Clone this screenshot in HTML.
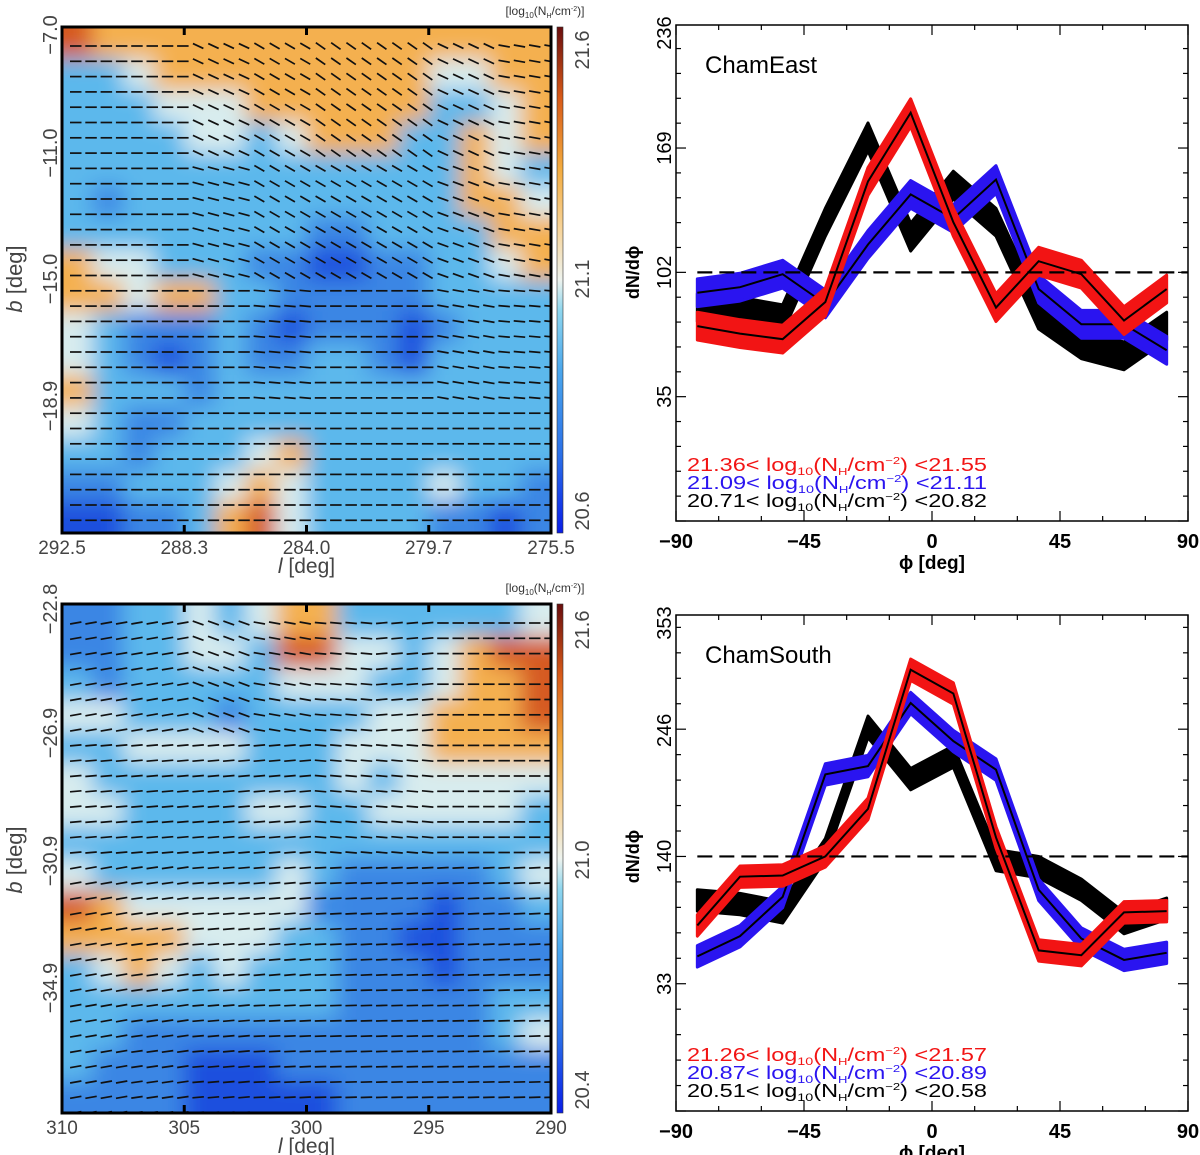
<!DOCTYPE html>
<html><head><meta charset="utf-8"><style>
html,body{margin:0;padding:0;background:#fff;}
svg{display:block;font-family:"Liberation Sans",sans-serif;}
</style></head><body>
<svg id="fig" width="1200" height="1155" viewBox="0 0 1200 1155" xmlns="http://www.w3.org/2000/svg">
<defs>
<filter id="blur" x="-10%" y="-10%" width="120%" height="120%"><feGaussianBlur stdDeviation="11"/></filter>
<clipPath id="clipTop"><rect x="62" y="27" width="489" height="506"/></clipPath>
<clipPath id="clipBot"><rect x="62" y="604" width="489" height="509"/></clipPath>
<linearGradient id="cbar" x1="0" y1="1" x2="0" y2="0">
<stop offset="0" stop-color="#0a1ee8"/><stop offset="0.15" stop-color="#2a6ee8"/><stop offset="0.32" stop-color="#4aa6ec"/>
<stop offset="0.44" stop-color="#8ed6ee"/><stop offset="0.5" stop-color="#eef3ee"/><stop offset="0.6" stop-color="#f7d49a"/>
<stop offset="0.72" stop-color="#f3ab3e"/><stop offset="0.86" stop-color="#d85a18"/><stop offset="1" stop-color="#6a0e0e"/>
</linearGradient>
</defs>
<g id="maps"></g>
<g id="charts"></g>
</svg>
<script>
// ---------- map data (coarse column-density levels 0..5) ----------
const levelColors = ["#1f50de","#3a86e4","#5cb8ec","#d8ecee","#f4b050","#d65a24"];
const eastGrid = [
"5444444444444444",
"2234444444443344",
"2223334444442234",
"2222332344422434",
"2222222222222432",
"2122222222222443",
"2222222211222244",
"4332221100112234",
"4434422111112222",
"3211121011101222",
"3210121122102222",
"4222122222222222",
"3211222222222222",
"2212223422222222",
"1122234322223221",
"0011245322221101"];
const southGrid = [
"1122323442222223",
"1122332553323455",
"2122222333223445",
"3322212222334445",
"2233332223334444",
"3222222223233333",
"3322223322333332",
"2222222222222222",
"3222222321111123",
"5433333311110112",
"4444333221100111",
"2343232221110111",
"2222222221111122",
"2211111111111123",
"2111000111111111",
"1111000001111111"];
const eastAngles = [[0,0,25,30,35,35,25,10],[0,0,15,30,30,30,20,10],[0,0,0,5,0,0,10,5],[0,0,0,0,0,0,0,0]];
const southAngles = [[-10,-10,20,10,5,-5,0,0],[-5,-5,-5,-5,5,5,0,0],[-10,-8,-5,-5,-3,-3,-3,-3],[-10,-8,-5,-3,-2,-2,-2,-2]];

// ---------- chart data ----------
const phiBins = [-82.5,-67.5,-52.5,-37.5,-22.5,-7.5,7.5,22.5,37.5,52.5,67.5,82.5];
const eastBlack = [83,81,77,129,175,121,149,129,79,63,57,73];
const eastBlue  = [91,94,101,85,117,144,131,152,93,74,74,60];
const eastRed   = [73,69,66,86,151,188,129,83,108,101,76,93];
const southBlack= [103,100,93,146,249,205,224,137,131,112,84,96];
const southBlue = [56,73,106,209,216,269,237,213,112,71,53,59];
const southRed  = [82,123,124,140,180,297,277,156,61,57,93,94];
const xTicks = [-90,-45,0,45,90];
const eastYTicks = [35,102,169,236];
const southYTicks = [33,140,246,353];
const eastMean = 102, southMean = 140;
const eastErr = 7.5, southErr = 9;

const NS="http://www.w3.org/2000/svg";
function mk(tag,attrs,parent,text){const e=document.createElementNS(NS,tag);for(const k in attrs)e.setAttribute(k,attrs[k]);if(text!==undefined)e.textContent=text;parent.appendChild(e);return e;}

// ---------- maps ----------
function drawMap(name,grid,angles,x0,y0,w,h,clip,xl,yl,cl,ylab){
  const g=mk('g',{},document.getElementById('maps'));
  
  
  const cg=mk('g',{'clip-path':'url(#'+clip+')'},g);
  const hm=mk('g',{filter:'url(#blur)'},cg);
  
  
  const R=grid.length,C=grid[0].length,cw=w/C,ch=h/R;
  for(let r=0;r<R;r++)for(let c=0;c<C;c++){
    let x=x0+c*cw,y=y0+r*ch,ww=cw+0.5,hh=ch+0.5;
    if(c==0){x-=25;ww+=25;} if(c==C-1){ww+=25;}
    if(r==0){y-=25;hh+=25;} if(r==R-1){hh+=25;}
    const rc=mk('rect',{x:x,y:y,width:ww,height:hh,fill:levelColors[+grid[r][c]]},hm);
    
    
  }
  const vg=mk('g',{stroke:'#111','stroke-width':1.7},cg);
  
  
  const sp=15.3,len=11.5;
  for(let yy=y0+19;yy<y0+h;yy+=sp){
    for(let xx=x0+8;xx<x0+w;xx+=sp){
      const ar=Math.min(angles.length-1,Math.floor((yy-y0)/h*angles.length));
      const ac=Math.min(angles[0].length-1,Math.floor((xx-x0)/w*angles[0].length));
      const a=angles[ar][ac]*Math.PI/180;
      const dx=Math.cos(a)*len/2,dy=Math.sin(a)*len/2,cx=xx+len/2;
      mk('line',{x1:cx-dx,y1:yy-dy,x2:cx+dx,y2:yy+dy},vg);
    }
  }
  const fr=mk('rect',{x:x0,y:y0,width:w,height:h,fill:'none',stroke:'#000','stroke-width':3},g);
  
  
  for(let i=0;i<5;i++){const tx=x0+w*i/4;mk('line',{x1:tx,y1:y0,x2:tx,y2:y0+8,stroke:'#000','stroke-width':3},g);mk('line',{x1:tx,y1:y0+h,x2:tx,y2:y0+h-8,stroke:'#000','stroke-width':3},g);}
  const cb=mk('rect',{x:557,y:y0,width:6,height:h,fill:'url(#cbar)',stroke:'#333','stroke-width':0.6},g);
  
  
  const ct=mk('text',{x:545,y:y0-12,'font-size':12,fill:'#333','text-anchor':'middle'},g,'');
  ct.innerHTML='[log<tspan font-size="8" dy="3">10</tspan><tspan dy="-3">(N</tspan><tspan font-size="7" dy="3">H</tspan><tspan dy="-3">/cm</tspan><tspan font-size="7" dy="-4">-2</tspan><tspan dy="4">)]</tspan>';
  
  
  cl.forEach(([t,y])=>{const e=mk('text',{x:0,y:0,'font-size':20,fill:'#444','text-anchor':'middle',transform:'translate(589,'+y+') rotate(-90)'},g,t);
    });
  xl.forEach((t,i)=>{const e=mk('text',{x:x0+w*i/4,y:y0+h+21,'font-size':19,fill:'#444','text-anchor':'middle'},g,t);
    });
  yl.forEach(([t,y])=>{const e=mk('text',{x:0,y:0,'font-size':20,fill:'#444','text-anchor':'middle',transform:'translate(57,'+y+') rotate(-90)'},g,t);
    });
  const xt=mk('text',{x:x0+w/2,y:y0+h+40,'font-size':21,fill:'#444','text-anchor':'middle'},g,'');
  xt.innerHTML='<tspan font-style="italic">l</tspan> [deg]';
  
  const yt=mk('text',{x:0,y:0,'font-size':22,fill:'#444','text-anchor':'middle',transform:'translate(22,'+ylab+') rotate(-90)'},g,'');
  yt.innerHTML='<tspan font-style="italic">b</tspan> [deg]';
  
}
drawMap('cham-east',eastGrid,eastAngles,62,27,489,506,'clipTop',
  ['292.5','288.3','284.0','279.7','275.5'],[['−7.0',35],['−11.0',153],['−15.0',279],['−18.9',406]],
  [['21.6',50],['21.1',279],['20.6',511]],279);
drawMap('cham-south',southGrid,southAngles,62,604,489,509,'clipBot',
  ['310','305','300','295','290'],[['−22.8',609],['−26.9',733],['−30.9',861],['−34.9',988]],
  [['21.6',630],['21.0',860],['20.4',1090]],860);

// ---------- charts ----------
function drawChart(name,title,y0,y1,ymin,ymax,yTicks,mean,err,blk,blu,red,legend){
  const X0=676,X1=1188;
  const g=mk('g',{},document.getElementById('charts'));
  
  
  const sx=v=>X0+(v+90)/180*(X1-X0);
  const sy=v=>y1-(v-ymin)/(ymax-ymin)*(y1-y0);
  mk('rect',{x:X0,y:y0,width:X1-X0,height:y1-y0,fill:'none',stroke:'#000','stroke-width':1.5},g);
  for(let v=-90;v<=90;v+=15){const L=(v%45==0)?10:5;mk('line',{x1:sx(v),y1:y1,x2:sx(v),y2:y1-L,stroke:'#000','stroke-width':1.2},g);mk('line',{x1:sx(v),y1:y0,x2:sx(v),y2:y0+L,stroke:'#000','stroke-width':1.2},g);}
  const step=yTicks[1]-yTicks[0];
  for(let k=-10;k<=20;k++){const v=yTicks[0]+k*step/5;if(v<ymin||v>ymax+0.5)continue;const yy=sy(Math.min(v,ymax));const L=(k%5==0)?10:5;
    mk('line',{x1:X0,y1:yy,x2:X0+L,y2:yy,stroke:'#000','stroke-width':1.2},g);mk('line',{x1:X1,y1:yy,x2:X1-L,y2:yy,stroke:'#000','stroke-width':1.2},g);}
  xTicks.forEach(v=>{const e=mk('text',{x:sx(v),y:y1+27,'font-size':20,'font-weight':'bold','text-anchor':'middle'},g,String(v).replace('-','−'));
    });
  yTicks.forEach(v=>{let yy=Math.max(sy(v),y0+8);const e=mk('text',{x:0,y:0,'font-size':20,'text-anchor':'middle',transform:'translate(671,'+yy+') rotate(-90)'},g,String(v));
    });
  const xt=mk('text',{x:(X0+X1)/2,y:y1+48,'font-size':19,'font-weight':'bold','text-anchor':'middle'},g,'ϕ [deg]');
  
  const yt=mk('text',{x:0,y:0,'font-size':18,'font-weight':'bold','text-anchor':'middle',transform:'translate(639,'+sy(mean)+') rotate(-90)'},g,'dN/dϕ');
  
  const tt=mk('text',{x:705,y:y0+48,'font-size':24},g,title);
  
  function band(vals,col,nm,line){
    let pts=phiBins.map((p,i)=>sx(p)+','+sy(vals[i]+err));
    pts=pts.concat(phiBins.map((p,i)=>sx(p)+','+sy(vals[i]-err)).reverse());
    const b=mk('polygon',{points:pts.join(' '),fill:col,stroke:col,'stroke-width':3,'stroke-linejoin':'round'},g);
    
    if(line){const l=mk('polyline',{points:phiBins.map((p,i)=>sx(p)+','+sy(vals[i])).join(' '),fill:'none',stroke:'#000','stroke-width':2},g);
      }
  }
  band(blk,'#000','black-series',false);
  band(blu,'#2a14f0','blue-series',true);
  band(red,'#f21414','red-series',true);
  const ml=mk('line',{x1:sx(phiBins[0]),y1:sy(mean),x2:X1,y2:sy(mean),stroke:'#000','stroke-width':2.2,'stroke-dasharray':'15 7'},g);
  
  const cols=['#f21414','#2a14f0','#000'];
  legend.forEach((lg,i)=>{const e=mk('text',{x:687,y:y1-50+i*18,'font-size':18,fill:cols[i],'textLength':300,'lengthAdjust':'spacingAndGlyphs'},g,'');
    e.innerHTML=lg[0]+'&lt; log<tspan font-size="11" dy="4">10</tspan><tspan dy="-4">(N</tspan><tspan font-size="10" dy="4">H</tspan><tspan dy="-4">/cm</tspan><tspan font-size="10" dy="-7">−2</tspan><tspan dy="7">) &lt;'+lg[1]+'</tspan>';
    });
}
drawChart('cham-east','ChamEast',25,521,-32,235.3,eastYTicks,eastMean,eastErr,eastBlack,eastBlue,eastRed,
  [['21.36','21.55'],['21.09','21.11'],['20.71','20.82']]);
drawChart('cham-south','ChamSouth',615,1111,-74,343,southYTicks,southMean,southErr,southBlack,southBlue,southRed,
  [['21.26','21.57'],['20.87','20.89'],['20.51','20.58']]);
</script>
</body></html>
